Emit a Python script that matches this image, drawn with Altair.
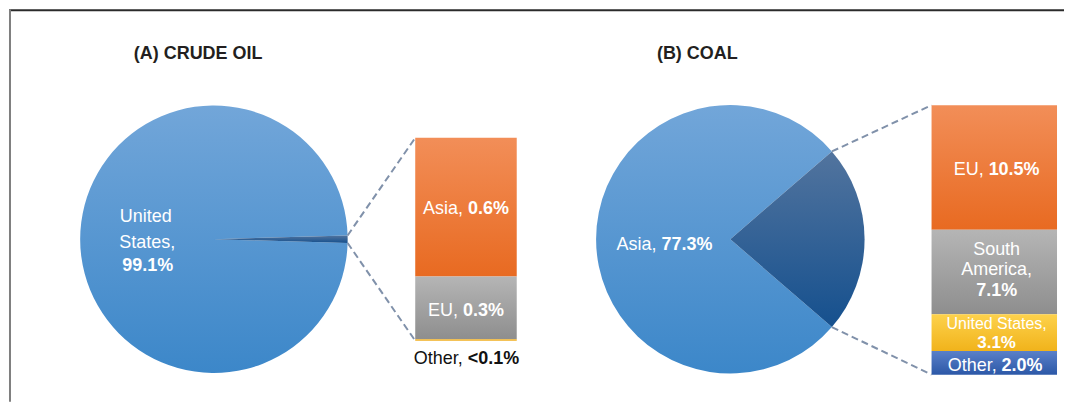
import math
import altair as alt
import pandas as pd

# ---------------- data ----------------
oil_pie_names = ["United States", "Other regions"]
oil_pie_values = [99.1, 0.9]
oil_bar_names = ["Asia", "EU", "Other"]
oil_bar_values = [0.62, 0.28, 0.007]
oil_bar_labels = ["0.6%", "0.3%", "<0.1%"]

coal_pie_names = ["Asia", "Other regions"]
coal_pie_values = [77.3, 22.7]
coal_bar_names = ["EU", "South America", "United States", "Other"]
coal_bar_values = [10.5, 7.1, 3.1, 2.0]
coal_bar_labels = ["10.5%", "7.1%", "3.1%", "2.0%"]

# ---------------- style ----------------
FONT = "Liberation Sans, Arial, Helvetica, sans-serif"
SIZE = 18
W = 1057
H = 393
CONNECT = "#8091aa"


def grad(top, bottom):
    return alt.LinearGradient(
        gradient="linear", x1=0, y1=0, x2=0, y2=1,
        stops=[alt.GradientStop(color=top, offset=0),
               alt.GradientStop(color=bottom, offset=1)])


G_MAIN = grad("#72a6d9", "#3c87c9")
G_DARK = grad("#52749e", "#15508e")
G_ORANGE = grad("#f28e58", "#e86a21")
G_GRAY = grad("#b5b5b5", "#8e8e8e")
G_YELLOW = grad("#fdd24c", "#f1b31b")
G_BLUE = grad("#5a80c9", "#2c58a7")
G_THIN = grad("#f3b52a", "#f0ad1e")

REG_W = {' ': 278, ',': 278, '.': 278, '%': 889, '<': 584, 'A': 667, 'E': 667,
         'O': 778, 'S': 667, 'U': 722, 'a': 556, 'c': 500, 'd': 556, 'e': 556,
         'h': 556, 'i': 222, 'm': 833, 'n': 556, 'o': 556, 'r': 333, 's': 500,
         't': 278, 'u': 556}
BOLD_W = {' ': 278, ',': 278, '.': 278, '%': 889, '<': 584}


def text_width(s, bold=False):
    table = BOLD_W if bold else REG_W
    w = 0
    for ch in s:
        w += 556 if ch.isdigit() else table.get(ch, 556)
    return w * SIZE / 1000.0


def one():
    return pd.DataFrame({"k": [0]})


def text_layer(text, x, y, align="center", bold=False, color="white",
               yscale=None, dy=0, size=SIZE):
    df = pd.DataFrame({"label": [text], "pos": [y]})
    ych = alt.Y("pos:Q", scale=yscale, axis=None) if yscale is not None else alt.value(y)
    return alt.Chart(df).mark_text(
        align=align, baseline="alphabetic", font=FONT, fontSize=size,
        fontWeight="bold" if bold else "normal", color=color, dy=dy
    ).encode(x=alt.value(x), y=ych, text="label:N")


def two_part(reg, bold, cx, y, color="white", yscale=None, dy=0):
    wr = text_width(reg + " ")
    wb = text_width(bold, True)
    split = cx - (wr + wb) / 2 + wr
    return [
        text_layer(reg, split - text_width(" "), y, align="right", color=color,
                   yscale=yscale, dy=dy),
        text_layer(bold, split, y, align="left", bold=True, color=color,
                   yscale=yscale, dy=dy),
    ]


def rule(x, y, x2, y2, color, width, dash=None):
    kw = dict(color=color, strokeWidth=width)
    if dash:
        kw["strokeDash"] = dash
    return alt.Chart(one()).mark_rule(**kw).encode(
        x=alt.value(x), y=alt.value(y), x2=alt.value(x2), y2=alt.value(y2))


def pie(names, values, main_i, small_i, cx, cy, R):
    total = sum(values)
    small = values[small_i]
    a0 = math.pi / 2 - math.pi * small / total
    scale = alt.Scale(domain=[0, total], range=[a0, a0 + 2 * math.pi])
    df = pd.DataFrame({"name": [names[small_i], names[main_i]],
                       "start": [0, small], "end": [small, total]})
    layers = []
    for nm, g in [(names[main_i], G_MAIN), (names[small_i], G_DARK)]:
        layers.append(
            alt.Chart(df[df["name"] == nm]).mark_arc(radius=R, fill=g).encode(
                theta=alt.Theta("start:Q", scale=scale, stack=None),
                theta2="end:Q",
                x=alt.value(cx), y=alt.value(cy)))
    a1 = a0 + 2 * math.pi * small / total
    p_top = (cx + R * math.sin(a0), cy - R * math.cos(a0))
    p_bot = (cx + R * math.sin(a1), cy - R * math.cos(a1))
    return layers, p_top, p_bot


def bars(names, values, x0, x1, top, bottom, grads):
    total = sum(values)
    yscale = alt.Scale(domain=[0, total], range=[bottom, top], nice=False, zero=True)
    rows = []
    acc = 0.0
    for nm, v in reversed(list(zip(names, values))):
        rows.append({"name": nm, "y0": acc, "y1": acc + v, "mid": acc + v / 2})
        acc += v
    df = pd.DataFrame(rows)
    layers = []
    for nm, g in zip(names, grads):
        layers.append(
            alt.Chart(df[df["name"] == nm]).mark_rect(fill=g).encode(
                x=alt.value(x0), x2=alt.value(x1),
                y=alt.Y("y0:Q", scale=yscale, axis=None), y2="y1:Q"))
    mids = dict(zip(df["name"], df["mid"]))
    return layers, yscale, mids


# ---------------- frame ----------------
layers = [
    rule(0, 1, W, 1, "#2b2b2b", 2),
    rule(1, 0, 1, H, "#7f7f7f", 2),
]

# ---------------- panel A : crude oil ----------------
A_cx, A_cy, A_R = 205.3, 230.3, 134
A_bx0, A_bx1, A_top, A_bot = 407, 508.7, 128.7, 332
pieA, A_pt, A_pb = pie(oil_pie_names, oil_pie_values, 0, 1, A_cx, A_cy, A_R)
barA, A_ys, A_mid = bars(oil_bar_names, oil_bar_values, A_bx0, A_bx1, A_top, A_bot,
                         [G_ORANGE, G_GRAY, G_THIN])
A_bc = (A_bx0 + A_bx1) / 2

layers += [text_layer("(A) CRUDE OIL", 189.5, 50, bold=True, color="#231f20")]
layers += pieA + barA
layers += [
    rule(A_pt[0], A_pt[1], A_bx0, A_top, CONNECT, 2, [7, 4]),
    rule(A_pb[0], A_pb[1], A_bx0, A_bot, CONNECT, 2, [7, 4]),
    text_layer("United", 137, 213),
    text_layer("States,", 138.5, 238.7),
    text_layer("99.1%", 139, 262, bold=True),
]
layers += two_part("Asia,", oil_bar_labels[0], A_bc, A_mid["Asia"], yscale=A_ys, dy=7)
layers += two_part("EU,", oil_bar_labels[1], A_bc, A_mid["EU"], yscale=A_ys, dy=8)
layers += two_part("Other,", oil_bar_labels[2], A_bc, 0, color="#111111", yscale=A_ys, dy=23)

# ---------------- panel B : coal ----------------
OX = 520
B_cx, B_cy, B_R = OX + 202.7, 230.3, 134.5
B_bx0, B_bx1, B_top, B_bot = OX + 404.3, OX + 530, 96, 366
pieB, B_pt, B_pb = pie(coal_pie_names, coal_pie_values, 0, 1, B_cx, B_cy, B_R)
barB, B_ys, B_mid = bars(coal_bar_names, coal_bar_values, B_bx0, B_bx1, B_top, B_bot,
                         [G_ORANGE, G_GRAY, G_YELLOW, G_BLUE])
B_lc = OX + 469.5

layers += [text_layer("(B) COAL", OX + 169.6, 50, bold=True, color="#231f20")]
layers += pieB + barB
layers += [
    rule(B_pt[0], B_pt[1], B_bx0, B_top, CONNECT, 2, [7, 4]),
    rule(B_pb[0], B_pb[1], B_bx0, B_bot, CONNECT, 2, [7, 4]),
]
layers += two_part("Asia,", "77.3%", OX + 136.7, 241.3)
layers += two_part("EU,", coal_bar_labels[0], B_lc, B_mid["EU"], yscale=B_ys, dy=7)
layers += [
    text_layer("South", B_lc, B_mid["South America"], yscale=B_ys, dy=-16.7),
    text_layer("America,", B_lc, B_mid["South America"], yscale=B_ys, dy=3.3),
    text_layer(coal_bar_labels[1], B_lc, B_mid["South America"], bold=True, yscale=B_ys, dy=24),
    text_layer("United States,", B_lc, B_mid["United States"], yscale=B_ys, dy=-3.5, size=16),
    text_layer(coal_bar_labels[2], B_lc, B_mid["United States"], bold=True, yscale=B_ys, dy=15, size=17),
]
layers += two_part("Other,", coal_bar_labels[3], B_lc - 2, B_mid["Other"], yscale=B_ys, dy=8)

chart = alt.layer(*layers).resolve_scale(
    y="independent", theta="independent"
).properties(
    width=W, height=H, padding=0, background="white"
).configure_view(stroke=None)

chart.save("out.html", embed_options={"renderer": "svg", "actions": False})
